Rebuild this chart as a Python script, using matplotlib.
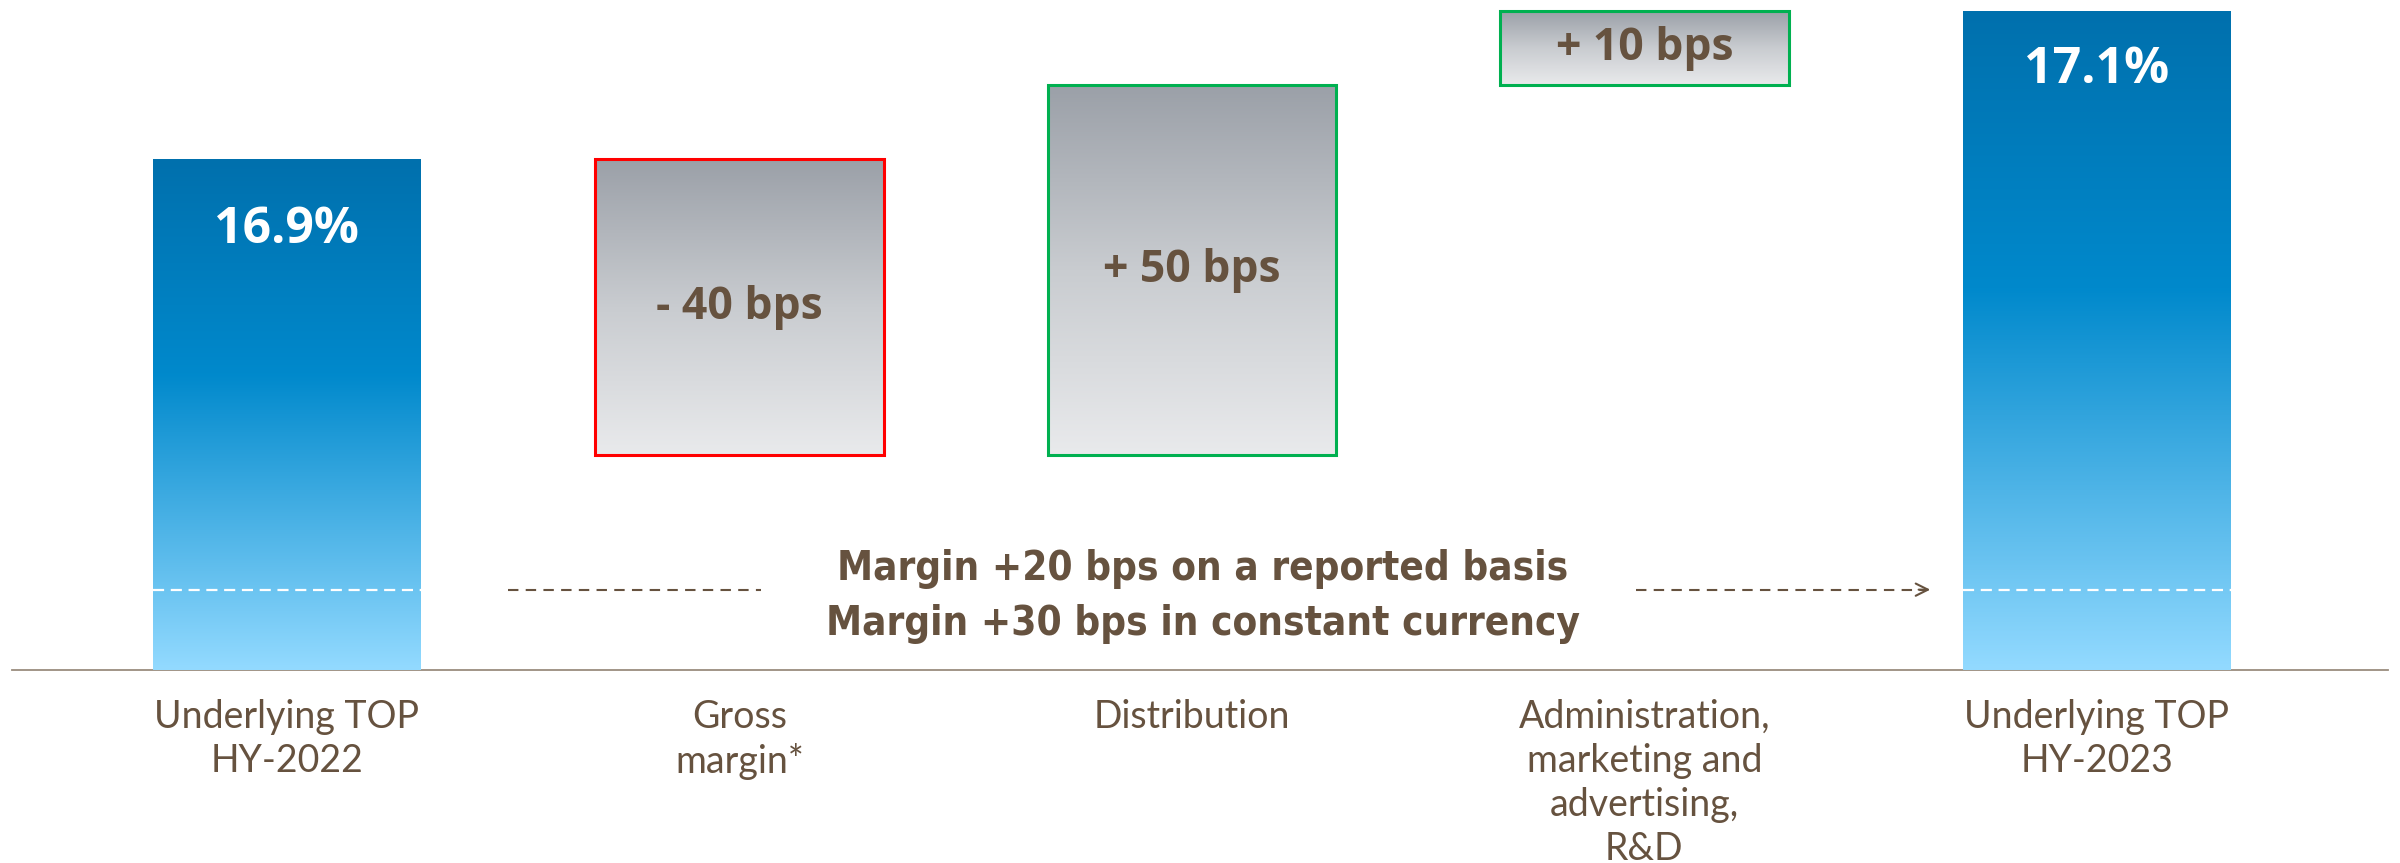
import numpy as np
import matplotlib
matplotlib.use("Agg")
import matplotlib.pyplot as plt
from matplotlib.colors import LinearSegmentedColormap
from matplotlib.patches import Rectangle

# данные
categories = ["Underlying TOP\nHY-2022", "Gross\nmargin*", "Distribution",
              "Administration,\nmarketing and\nadvertising,\nR&D", "Underlying TOP\nHY-2023"]
start_value = 16.9
deltas_bps = [-40, 50, 10]
end_value = 17.1
value_labels = ["16.9%", "- 40 bps", "+ 50 bps", "+ 10 bps", "17.1%"]
note_lines = ["Margin +20 bps on a reported basis", "Margin +30 bps in constant currency"]
base = 16.21      # ось разорвана, бары начинаются не с нуля
break_level = 16.318

brown = "#66523F"
blue_cm = LinearSegmentedColormap.from_list("b", [(0, "#0070AD"), (0.42, "#0089CC"), (1, "#93DAFF")])
grey_cm = LinearSegmentedColormap.from_list("g", ["#9BA0A8", "#C9CCD0", "#E9EAEC"])
grad = np.linspace(0, 1, 256).reshape(-1, 1)

fig = plt.figure(figsize=(24, 8.63), dpi=100)
ax = fig.add_axes([0, 0, 1, 1])
ax.axis("off")

def grad_bar(x, w, y0, y1, cmap, edge=None):
    ax.imshow(grad, extent=[x - w / 2, x + w / 2, y0, y1], aspect="auto", cmap=cmap,
              interpolation="bicubic", zorder=2)
    if edge:
        ax.add_patch(Rectangle((x - w / 2, y0), w, y1 - y0, fill=False, ec=edge, lw=2.2, zorder=3))

# синие бары
wb = 0.592
wd = 0.638
grad_bar(0, wb, base, start_value, blue_cm)
grad_bar(4, wb, base, end_value, blue_cm)
for xi in (0, 4):
    ax.plot([xi - wb / 2, xi + wb / 2], [break_level, break_level], color="white",
            lw=1.6, dashes=(5, 3), zorder=4)

# дельты
level = start_value
for i, d in enumerate(deltas_bps):
    new = level + d / 100
    lo, hi = min(level, new), max(level, new)
    grad_bar(i + 1, wd, lo, hi, grey_cm, edge="#FF0000" if d < 0 else "#00B050")
    ax.text(i + 1, (lo + hi) / 2, value_labels[i + 1], ha="center", va="center",
            fontsize=32, fontweight="bold", color=brown, family="Open Sans", zorder=5)
    level = new

ax.text(0, start_value - 0.096, value_labels[0], ha="center", va="center", fontsize=36,
        fontweight="bold", color="white", family="Open Sans", zorder=5)
ax.text(4, end_value - 0.080, value_labels[4], ha="center", va="center", fontsize=36,
        fontweight="bold", color="white", family="Open Sans", zorder=5)

# базовая линия
ax.plot([-0.608, 4.644], [base, base], color="#9A8C7E", lw=1.3, zorder=1)

# подписи категорий
for i, c in enumerate(categories):
    ax.text(i, base - 0.040, c, ha="center", va="top", fontsize=27, color=brown,
            family="Lato", linespacing=1.27)

# пояснение и стрелки
for yy, line in zip([16.346, 16.272], note_lines):
    ax.text(2.024, yy, line, ha="center", va="center", fontsize=29, fontweight="bold",
            fontstretch="condensed", color=brown, family="DejaVu Sans", zorder=5)
ax.plot([0.488, 1.047], [break_level, break_level], color=brown, lw=1.5, dashes=(5, 3.5))
ax.plot([2.981, 3.625], [break_level, break_level], color=brown, lw=1.5, dashes=(5, 3.5))
ax.annotate("", xy=(3.638, break_level), xytext=(3.60, break_level),
            arrowprops=dict(arrowstyle="->", color=brown, lw=1.5, mutation_scale=22))

ax.set_xlim(-0.634, 4.670)
ax.set_ylim(15.9486, 17.1149)

plt.savefig("out.png", dpi=100)
